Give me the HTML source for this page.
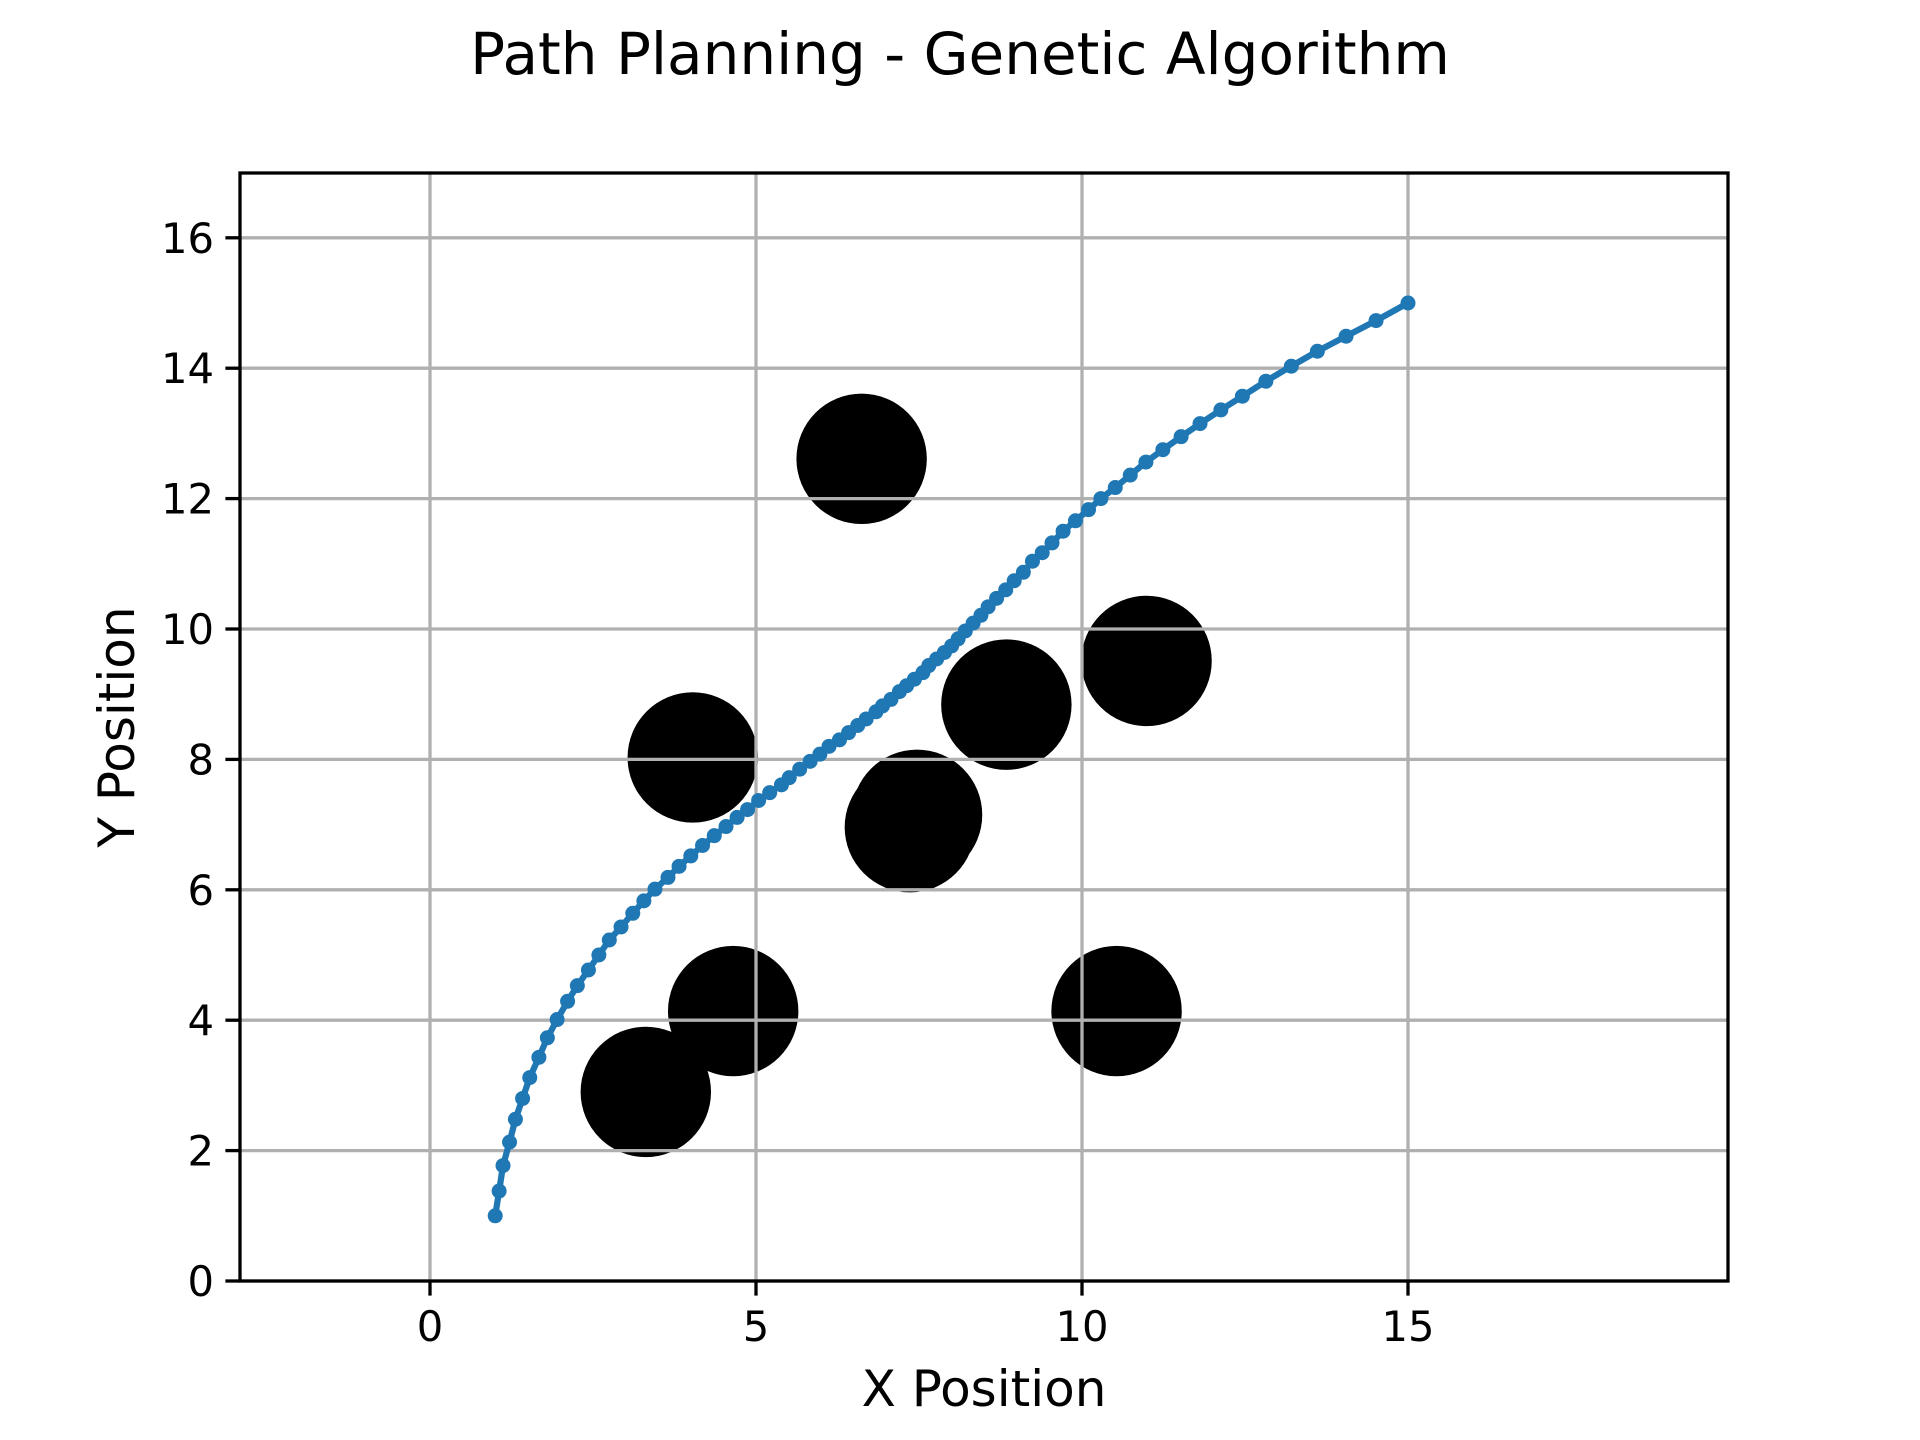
<!DOCTYPE html>
<html><head><meta charset="utf-8"><style>
html,body{margin:0;padding:0;background:#fff;}
svg{display:block;font-family:"DejaVu Sans","Liberation Sans",sans-serif;}
</style></head><body>
<svg id="chart" width="1920" height="1440" viewBox="0 0 1920 1440" xmlns="http://www.w3.org/2000/svg">
<rect width="1920" height="1440" fill="#fff"/>
<text x="960" y="74" font-size="58" text-anchor="middle">Path Planning - Genetic Algorithm</text>
<g id="obstacles"></g>
<g id="grid"></g>
<g id="path"></g>
<rect x="240" y="173" width="1488" height="1108" fill="none" stroke="#000" stroke-width="3.3"/>
<g id="ticks"></g>
<text x="984" y="1406" font-size="50" text-anchor="middle">X Position</text>
<text x="0" y="0" font-size="50" text-anchor="middle" transform="translate(134,727) rotate(-90)">Y Position</text>
</svg>
<script>
const xTicks = [0, 5, 10, 15];
const yTicks = [0, 2, 4, 6, 8, 10, 12, 14, 16];
const obsX = [3.31, 4.65, 4.03, 6.62, 7.47, 7.36, 8.84, 10.99, 10.53];
const obsY = [2.90, 4.14, 8.03, 12.61, 7.15, 6.96, 8.84, 9.51, 4.14];
const obsR = [1, 1, 1, 1, 1, 1, 1, 1, 1];
const pathX = [1.0,1.06,1.12,1.22,1.31,1.42,1.53,1.67,1.80,1.95,2.11,2.26,2.43,2.59,2.75,2.93,3.11,3.28,3.45,3.65,3.82,4.0,4.18,4.36,4.54,4.71,4.87,5.04,5.21,5.39,5.51,5.67,5.83,5.98,6.12,6.28,6.42,6.56,6.69,6.84,6.94,7.07,7.20,7.31,7.43,7.56,7.65,7.77,7.89,8.00,8.10,8.21,8.33,8.45,8.56,8.69,8.83,8.96,9.10,9.24,9.39,9.54,9.71,9.90,10.10,10.29,10.51,10.74,10.98,11.24,11.52,11.81,12.13,12.46,12.82,13.21,13.61,14.05,14.51,15.0];
const pathY = [1.0,1.38,1.77,2.13,2.48,2.80,3.12,3.43,3.73,4.01,4.29,4.53,4.77,5.0,5.23,5.43,5.64,5.83,6.01,6.19,6.36,6.52,6.68,6.83,6.97,7.11,7.23,7.37,7.49,7.61,7.72,7.85,7.97,8.08,8.20,8.30,8.41,8.52,8.62,8.73,8.82,8.92,9.04,9.13,9.23,9.33,9.44,9.54,9.64,9.74,9.85,9.97,10.09,10.21,10.34,10.47,10.6,10.74,10.87,11.04,11.17,11.32,11.50,11.66,11.83,12.0,12.17,12.36,12.56,12.75,12.95,13.15,13.36,13.57,13.80,14.03,14.26,14.49,14.73,15.0];

const L=240,R=1728,T=173,B=1281;
const X0=430, S=65.2;
function sx(v){return X0+v*S;}
function sy(v){return B-v*S;}
const NS="http://www.w3.org/2000/svg";
function mk(tag,attrs,parent){const e=document.createElementNS(NS,tag);for(const k in attrs)e.setAttribute(k,attrs[k]);parent.appendChild(e);return e;}
const grid=document.getElementById('grid'), ticks=document.getElementById('ticks');
xTicks.forEach(v=>{
  const g=mk('line',{x1:sx(v),x2:sx(v),y1:T,y2:B,stroke:'#b0b0b0','stroke-width':3.3},grid);
  
  
  const t=mk('line',{x1:sx(v),x2:sx(v),y1:B,y2:B+14.6,stroke:'#000','stroke-width':3.3},ticks);
  
  
  const l=mk('text',{x:sx(v),y:1341,'font-size':41.7,'text-anchor':'middle'},ticks);
  l.textContent=v;
  
  
});
yTicks.forEach(v=>{
  const g=mk('line',{x1:L,x2:R,y1:sy(v),y2:sy(v),stroke:'#b0b0b0','stroke-width':3.3},grid);
  
  
  const t=mk('line',{x1:L-14.6,x2:L,y1:sy(v),y2:sy(v),stroke:'#000','stroke-width':3.3},ticks);
  
  
  const l=mk('text',{x:L-26,y:sy(v)+15,'font-size':41.7,'text-anchor':'end'},ticks);
  l.textContent=v;
  
  
});
const obs=document.getElementById('obstacles');
obsX.forEach((x,i)=>{
  const c=mk('circle',{cx:sx(x),cy:sy(obsY[i]),r:obsR[i]*S,fill:'#000'},obs);
  
  
});
const path=document.getElementById('path');
const pl=mk('polyline',{points:pathX.map((x,i)=>sx(x)+','+sy(pathY[i])).join(' '),fill:'none',stroke:'#1f77b4','stroke-width':6.25,'stroke-linejoin':'round'},path);


pathX.forEach((x,i)=>{
  const m=mk('circle',{cx:sx(x),cy:sy(pathY[i]),r:7.5,fill:'#1f77b4'},path);
  
  
});
</script>
</body></html>
